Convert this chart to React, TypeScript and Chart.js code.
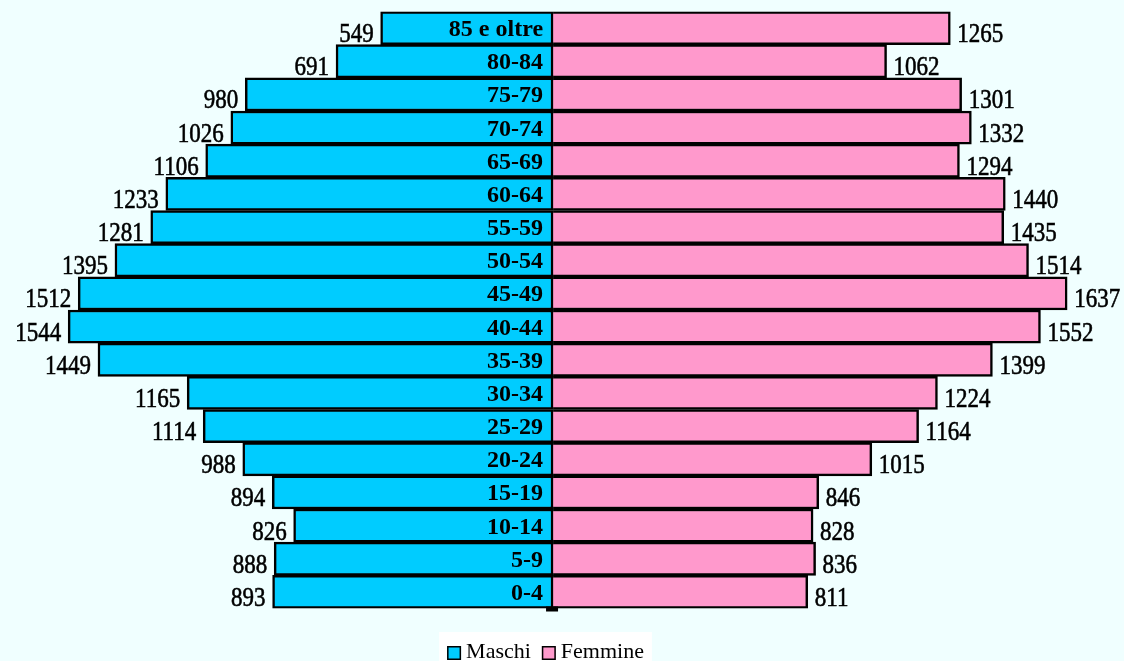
import React, { useEffect, useRef } from "react";
import { Chart, registerables } from "chart.js";

Chart.register(...registerables);

const ageGroups = [
  "85 e oltre", "80-84", "75-79", "70-74", "65-69", "60-64", "55-59", "50-54", "45-49",
  "40-44", "35-39", "30-34", "25-29", "20-24", "15-19", "10-14", "5-9", "0-4",
];
const maschi = [549, 691, 980, 1026, 1106, 1233, 1281, 1395, 1512, 1544, 1449, 1165, 1114, 988, 894, 826, 888, 893];
const femmine = [1265, 1062, 1301, 1332, 1294, 1440, 1435, 1514, 1637, 1552, 1399, 1224, 1164, 1015, 846, 828, 836, 811];
const seriesNames = ["Maschi", "Femmine"];
const seriesColors = ["#00CCFF", "#FF99CC"];

const SERIF = "'Liberation Serif', 'Times New Roman', serif";

export default function App() {
  const ref = useRef<HTMLCanvasElement>(null);

  useEffect(() => {
    const canvas = ref.current;
    if (!canvas) return;

    const stretchText = (ctx: CanvasRenderingContext2D, t: string, x: number, y: number, align: CanvasTextAlign) => {
      ctx.save();
      ctx.translate(x, y);
      ctx.scale(1, 1.15);
      ctx.textAlign = align;
      ctx.textBaseline = "alphabetic";
      ctx.fillText(t, 0, 0);
      ctx.lineWidth = 0.5;
      ctx.strokeStyle = "#000";
      ctx.strokeText(t, 0, 0);
      ctx.restore();
    };

    const pyramidPlugin = {
      id: "pyramidPlugin",
      beforeDraw(chart: any) {
        const ctx = chart.ctx as CanvasRenderingContext2D;
        ctx.save();
        ctx.fillStyle = "#F0FFFF";
        ctx.fillRect(0, 0, chart.width, chart.height);
        ctx.restore();
      },
      afterDatasetsDraw(chart: any) {
        const ctx = chart.ctx as CanvasRenderingContext2D;
        const xs = chart.scales.x;
        const ys = chart.scales.y;
        const x0 = xs.getPixelForValue(0);
        ctx.save();
        ctx.fillStyle = "#000";
        // small tick under the centre line
        ctx.fillRect(x0 - 7, chart.chartArea.bottom - 2, 12, 5);

        ageGroups.forEach((g, i) => {
          const cy = ys.getPixelForValue(i);
          ctx.font = `bold 24px ${SERIF}`;
          ctx.textAlign = "right";
          ctx.textBaseline = "alphabetic";
          ctx.fillText(g, x0 - 10, cy + 8);

          ctx.font = `23px ${SERIF}`;
          const mx = xs.getPixelForValue(-maschi[i]);
          stretchText(ctx, String(maschi[i]), mx - 7, cy + 14, "right");
          const fx = xs.getPixelForValue(femmine[i]);
          stretchText(ctx, String(femmine[i]), fx + 7, cy + 14, "left");
        });

        // legend
        ctx.font = `22px ${SERIF}`;
        const box = 14;
        const gapText = 5;
        const gapItem = 11;
        const widths = seriesNames.map((n) => ctx.measureText(n).width);
        const total = widths.reduce((a, w) => a + box + gapText + w, 0) + gapItem * (seriesNames.length - 1);
        const pad = 8;
        const centerX = 545.5;
        let lx = centerX - total / 2;
        ctx.fillStyle = "#FFFFFF";
        ctx.fillRect(lx - pad, 632, total + pad * 2, 40);
        seriesNames.forEach((n, i) => {
          ctx.fillStyle = seriesColors[i];
          ctx.fillRect(lx, 646, box, box);
          ctx.strokeStyle = "#000";
          ctx.lineWidth = 1.5;
          ctx.strokeRect(lx + 0.75, 646.75, box - 1.5, box - 1.5);
          ctx.fillStyle = "#000";
          ctx.textAlign = "left";
          ctx.textBaseline = "alphabetic";
          ctx.fillText(n, lx + box + gapText, 658);
          lx += box + gapText + widths[i] + gapItem;
        });
        ctx.restore();
      },
    };

    const chart = new Chart(canvas, {
      type: "bar",
      data: {
        labels: ageGroups,
        datasets: [
          {
            label: seriesNames[0],
            data: maschi.map((v) => -v),
            backgroundColor: seriesColors[0],
            borderColor: "#000",
            borderWidth: 2.5,
            borderSkipped: false,
            barPercentage: 1,
            categoryPercentage: 1,
          },
          {
            label: seriesNames[1],
            data: femmine,
            backgroundColor: seriesColors[1],
            borderColor: "#000",
            borderWidth: 2.5,
            borderSkipped: "start",
            barPercentage: 1,
            categoryPercentage: 1,
          },
        ],
      },
      options: {
        indexAxis: "y",
        animation: false,
        responsive: false,
        devicePixelRatio: 1,
        layout: { padding: { top: 11.5, bottom: 52.5, left: 0, right: 0 } },
        scales: {
          x: { display: false, stacked: true, min: -1761, max: 1818 },
          y: { display: false, stacked: true },
        },
        plugins: {
          legend: { display: false },
          tooltip: { enabled: false },
        },
      },
      plugins: [pyramidPlugin],
    });

    return () => chart.destroy();
  }, []);

  return (
    <div style={{ position: "absolute", left: 0, top: 0, width: 1124, height: 661, background: "#F0FFFF" }}>
      <canvas ref={ref} width={1124} height={661} style={{ display: "block" }} />
    </div>
  );
}
